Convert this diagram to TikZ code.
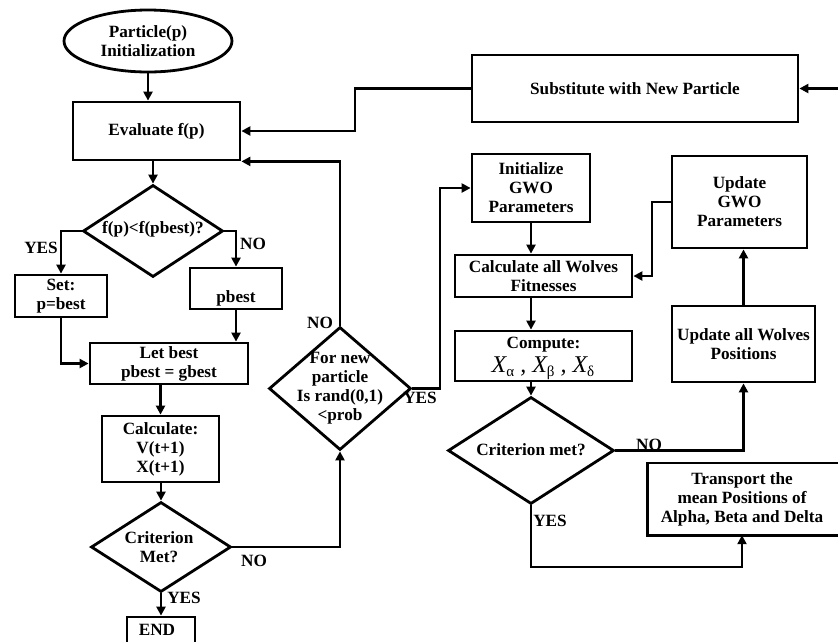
\documentclass[tikz,border=0pt]{standalone}
\usepackage{fontspec}
\setmainfont{Liberation Serif}
\usetikzlibrary{shapes.geometric,arrows.meta,calc}
\begin{document}
\begin{tikzpicture}[x=1pt,y=-1pt,
  every node/.style={font=\bfseries\fontsize{17.2}{19}\selectfont, align=center, inner sep=0pt},
  box/.style={draw, line width=2.8pt, rectangle},
  dia/.style={draw, line width=2.8pt, diamond, aspect=1},
  oval/.style={draw, line width=2.8pt, ellipse},
  arr/.style={line width=2.8pt, -{Triangle[length=9pt,width=9pt]}},
  lbl/.style={font=\bfseries\fontsize{17.2}{19}\selectfont}
]
\useasboundingbox (0,0) rectangle (838,641);
\begin{scope}
\clip (0,0) rectangle (838,641);
% nodes
\node[oval, minimum width=168, minimum height=62] (init) at (148,41) {Particle(p)\\Initialization};
\node[box, minimum width=167, minimum height=58] (eval) at (156.5,131) {Evaluate f(p)};
\node[box, minimum width=326, minimum height=67] (subst) at (635,88.5) {Substitute with New Particle};
\node[dia, minimum width=140, minimum height=92, inner sep=0pt] (d1) at (153,231) {};
\node at (153,229) {f(p)<f(pbest)?};
\node[box, minimum width=92, minimum height=42] (set) at (61,296) {Set:\\p=best};
\node[box, minimum width=92, minimum height=41] (pbest) at (236,288.5) {};
\node at (236,298) {pbest};
\node[box, minimum width=158, minimum height=41] (letbest) at (169,363.5) {Let best\\pbest = gbest};
\node[box, minimum width=117, minimum height=66] (calc) at (160.5,449) {Calculate:\\V(t+1)\\X(t+1)};
\node[dia, minimum width=140, minimum height=90] (d2) at (161,547) {};
\node at (159,547) {Criterion\\Met?};
\node[box, minimum width=68, minimum height=30] (end) at (161,632) {};
\node at (157,630) {END};
\node[dia, minimum width=142, minimum height=123] (d3) at (340,388.5) {};
\node at (340,388) {For new\\particle\\Is rand(0,1)\\<prob};
\node[box, minimum width=118, minimum height=68] (initgwo) at (531,188) {Initialize\\GWO\\Parameters};
\node[box, minimum width=177, minimum height=42] (calcw) at (543.5,276) {Calculate all Wolves\\Fitnesses};
\node[box, minimum width=135, minimum height=92] (updgwo) at (739.5,202) {Update\\GWO\\Parameters};
\node[box, minimum width=143, minimum height=76] (updpos) at (743.5,344) {Update all Wolves\\Positions};
\node[box, minimum width=177, minimum height=50] (compute) at (543.5,356) {};
\node at (543.5,345) {Compute:};
\node at (543,368) {\fontsize{24}{26}\selectfont\mdseries\itshape X\raisebox{-4pt}{\fontsize{15}{15}\selectfont\upshape α} , X\raisebox{-4pt}{\fontsize{15}{15}\selectfont\upshape β} , X\raisebox{-4pt}{\fontsize{15}{15}\selectfont\upshape δ}};
\node[dia, minimum width=166, minimum height=107] (d4) at (531,450.5) {};
\node at (531,450) {Criterion met?};
\node[minimum width=188, minimum height=72] (transport) at (742,499) {Transport the\\mean Positions of\\Alpha, Beta and Delta};
\draw[line width=2.8pt] (transport.south west) rectangle (870,463);
% labels
\node[lbl] at (41,248) {YES};
\node[lbl] at (253,244) {NO};
\node[lbl] at (320,323) {NO};
\node[lbl] at (254,561) {NO};
\node[lbl] at (184,598) {YES};
\node[lbl] at (420,398) {YES};
\node[lbl] at (649,445) {NO};
\node[lbl] at (550,521) {YES};
% coordinates
\coordinate (c1) at (355,131);
\coordinate (c2) at (440,388.5);
\coordinate (c3) at (652,202);
\coordinate (rin) at (845,88.5);
\coordinate (c4) at (531,567);
% connectors
\draw[arr] (init.south) -- (init.south |- eval.north);
\draw[arr] (subst.west) -| (c1) -- (c1 -| eval.east);
\draw[arr] (d3.north) |- (eval.south east);
\draw[arr] (d1.north |- eval.south) -- (d1.north);
\draw[arr] (d1.west) -| (set.north);
\draw[arr] (d1.east) -| (pbest.north);
\draw[arr] (set.south) |- (letbest.west);
\draw[arr] (pbest.south) -- (pbest.south |- letbest.north);
\draw[arr] (calc.north |- letbest.south) -- (calc.north);
\draw[arr] (d2.north |- calc.south) -- (d2.north);
\draw[arr] (d2.east) -| (d3.south);
\draw[arr] (d2.south) -- (d2.south |- end.north);
\draw[arr] (d3.east) -- (c2) |- (initgwo.west);
\draw[arr] (initgwo.south) -- (initgwo.south |- calcw.north);
\draw[arr] (d4.north |- calcw.south) -- (d4.north |- compute.north);
\draw[arr] (d4.north |- compute.south) -- (d4.north);
\draw[arr] (d4.east) -| (updpos.south);
\draw[arr] (d4.south) -- (c4) -| (transport.south);
\draw[arr] (updpos.north) -- (updpos.north |- updgwo.south);
\draw[arr] (updgwo.west) -- (c3) |- (calcw.east);
\draw[arr] (rin) -- (subst.east);
\end{scope}
\end{tikzpicture}
\end{document}
